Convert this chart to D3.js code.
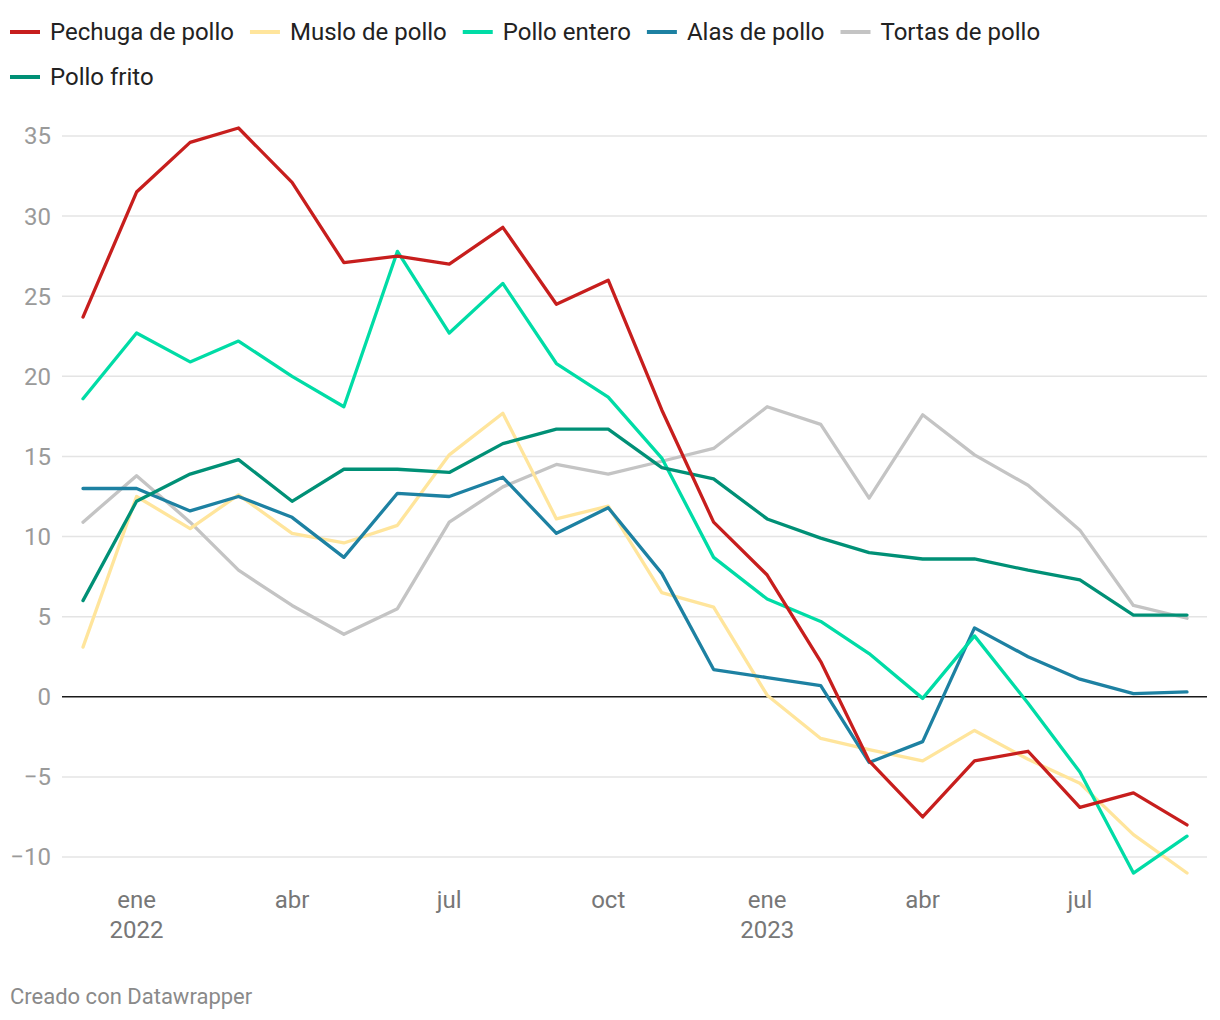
<!DOCTYPE html>
<html>
<head>
<meta charset="utf-8">
<script src="https://cdn.jsdelivr.net/npm/d3@7"></script>
<style>
  html, body { margin: 0; padding: 0; background: #fff; }
  svg { display: block; font-family: Roboto, "Noto Sans", sans-serif; }
</style>
</head>
<body>
<svg id="chart" width="1220" height="1020"></svg>
<script>
// ---- Data ----
const months = ["2021-12","2022-01","2022-02","2022-03","2022-04","2022-05","2022-06","2022-07","2022-08","2022-09","2022-10","2022-11","2022-12","2023-01","2023-02","2023-03","2023-04","2023-05","2023-06","2023-07","2023-08","2023-09"];

const seriesNames = ["Pechuga de pollo","Muslo de pollo","Pollo entero","Alas de pollo","Tortas de pollo","Pollo frito"];
const seriesColors = ["#c71e1d","#ffe59c","#00dca6","#1d81a2","#c4c4c4","#009076"];

const pechuga = [23.7,31.5,34.6,35.5,32.1,27.1,27.5,27.0,29.3,24.5,26.0,17.9,10.9,7.6,2.2,-4.0,-7.5,-4.0,-3.4,-6.9,-6.0,-8.0];
const muslo   = [3.1,12.5,10.5,12.6,10.2,9.6,10.7,15.1,17.7,11.1,11.9,6.5,5.6,0.1,-2.6,-3.3,-4.0,-2.1,-3.9,-5.4,-8.6,-11.0];
const entero  = [18.6,22.7,20.9,22.2,20.0,18.1,27.8,22.7,25.8,20.8,18.7,14.9,8.7,6.1,4.7,2.7,-0.1,3.8,-0.4,-4.7,-11.0,-8.7];
const alas    = [13.0,13.0,11.6,12.5,11.2,8.7,12.7,12.5,13.7,10.2,11.8,7.7,1.7,1.2,0.7,-4.1,-2.8,4.3,2.5,1.1,0.2,0.3];
const tortas  = [10.9,13.8,10.9,7.9,5.7,3.9,5.5,10.9,13.1,14.5,13.9,14.7,15.5,18.1,17.0,12.4,17.6,15.1,13.2,10.4,5.7,4.9];
const frito   = [6.0,12.2,13.9,14.8,12.2,14.2,14.2,14.0,15.8,16.7,16.7,14.3,13.6,11.1,9.9,9.0,8.6,8.6,7.9,7.3,5.1,5.1];

const seriesValues = [pechuga, muslo, entero, alas, tortas, frito];

const yTicks = [-10,-5,0,5,10,15,20,25,30,35];
const xTickDates = ["2022-01","2022-04","2022-07","2022-10","2023-01","2023-04","2023-07"];
const xTickLabels = ["ene","abr","jul","oct","ene","abr","jul"];
const xTickYears = ["2022","","","","2023","",""];

// ---- Chart ----
const svg = d3.select("#chart");
const parse = d3.timeParse("%Y-%m");
const dates = months.map(parse);

const x = d3.scaleTime()
  .domain([dates[0], dates[dates.length - 1]])
  .range([83, 1187]);
const y = d3.scaleLinear().domain([-10, 35]).range([857, 136]);

const gridLeft = 62, gridRight = 1207;

// gridlines
const grid = svg.append("g");
grid.selectAll("line").data(yTicks.filter(d => d !== 0)).join("line")
  .attr("x1", gridLeft).attr("x2", gridRight)
  .attr("y1", d => y(d)).attr("y2", d => y(d))
  .attr("stroke", "#e4e4e4").attr("stroke-width", 1.5);

// y labels
const fmt = d => d < 0 ? "\u2212" + Math.abs(d) : String(d);
svg.append("g").selectAll("text").data(yTicks).join("text")
  .attr("x", 51).attr("y", d => y(d))
  .attr("dy", "0.35em")
  .attr("text-anchor", "end")
  .attr("font-size", 24)
  .attr("fill", "#9a9a9a")
  .text(fmt);

// zero line
svg.append("line")
  .attr("x1", gridLeft).attr("x2", gridRight)
  .attr("y1", y(0)).attr("y2", y(0))
  .attr("stroke", "#1a1a1a").attr("stroke-width", 1.5);

// x labels
const xg = svg.append("g");
xTickDates.forEach((m, i) => {
  const xp = x(parse(m));
  xg.append("text").attr("x", xp).attr("y", 908)
    .attr("text-anchor", "middle").attr("font-size", 24).attr("fill", "#777")
    .text(xTickLabels[i]);
  if (xTickYears[i]) {
    xg.append("text").attr("x", xp).attr("y", 938)
      .attr("text-anchor", "middle").attr("font-size", 24).attr("fill", "#777")
      .text(xTickYears[i]);
  }
});

// lines
const line = d3.line()
  .x((d, i) => x(dates[i]))
  .y(d => y(d));

const order = [4, 1, 3, 2, 5, 0];
svg.append("g").selectAll("path").data(order).join("path")
  .attr("d", i => line(seriesValues[i]))
  .attr("fill", "none")
  .attr("stroke", i => seriesColors[i])
  .attr("stroke-width", 3.3)
  .attr("stroke-linejoin", "round")
  .attr("stroke-linecap", "round");

// legend
const legend = svg.append("g");
let lx = 10, ly = 32;
const maxW = 1210;
seriesNames.forEach((name, i) => {
  const g = legend.append("g");
  g.append("line").attr("x1", 0).attr("x2", 30).attr("y1", 0).attr("y2", 0)
    .attr("stroke", seriesColors[i]).attr("stroke-width", 4);
  const t = g.append("text").attr("x", 40).attr("y", 0).attr("dy", "0.35em")
    .attr("font-size", 24).attr("fill", "#222").text(name);
  const w = 40 + t.node().getComputedTextLength();
  if (lx + w > maxW - 150 && lx > 10) { lx = 10; ly += 45; }
  g.attr("transform", `translate(${lx},${ly})`);
  lx += w + 16;
});

// footer
svg.append("text").attr("x", 10).attr("y", 1004)
  .attr("font-size", 22).attr("fill", "#8a8a8a")
  .text("Creado con Datawrapper");
</script>
</body>
</html>
